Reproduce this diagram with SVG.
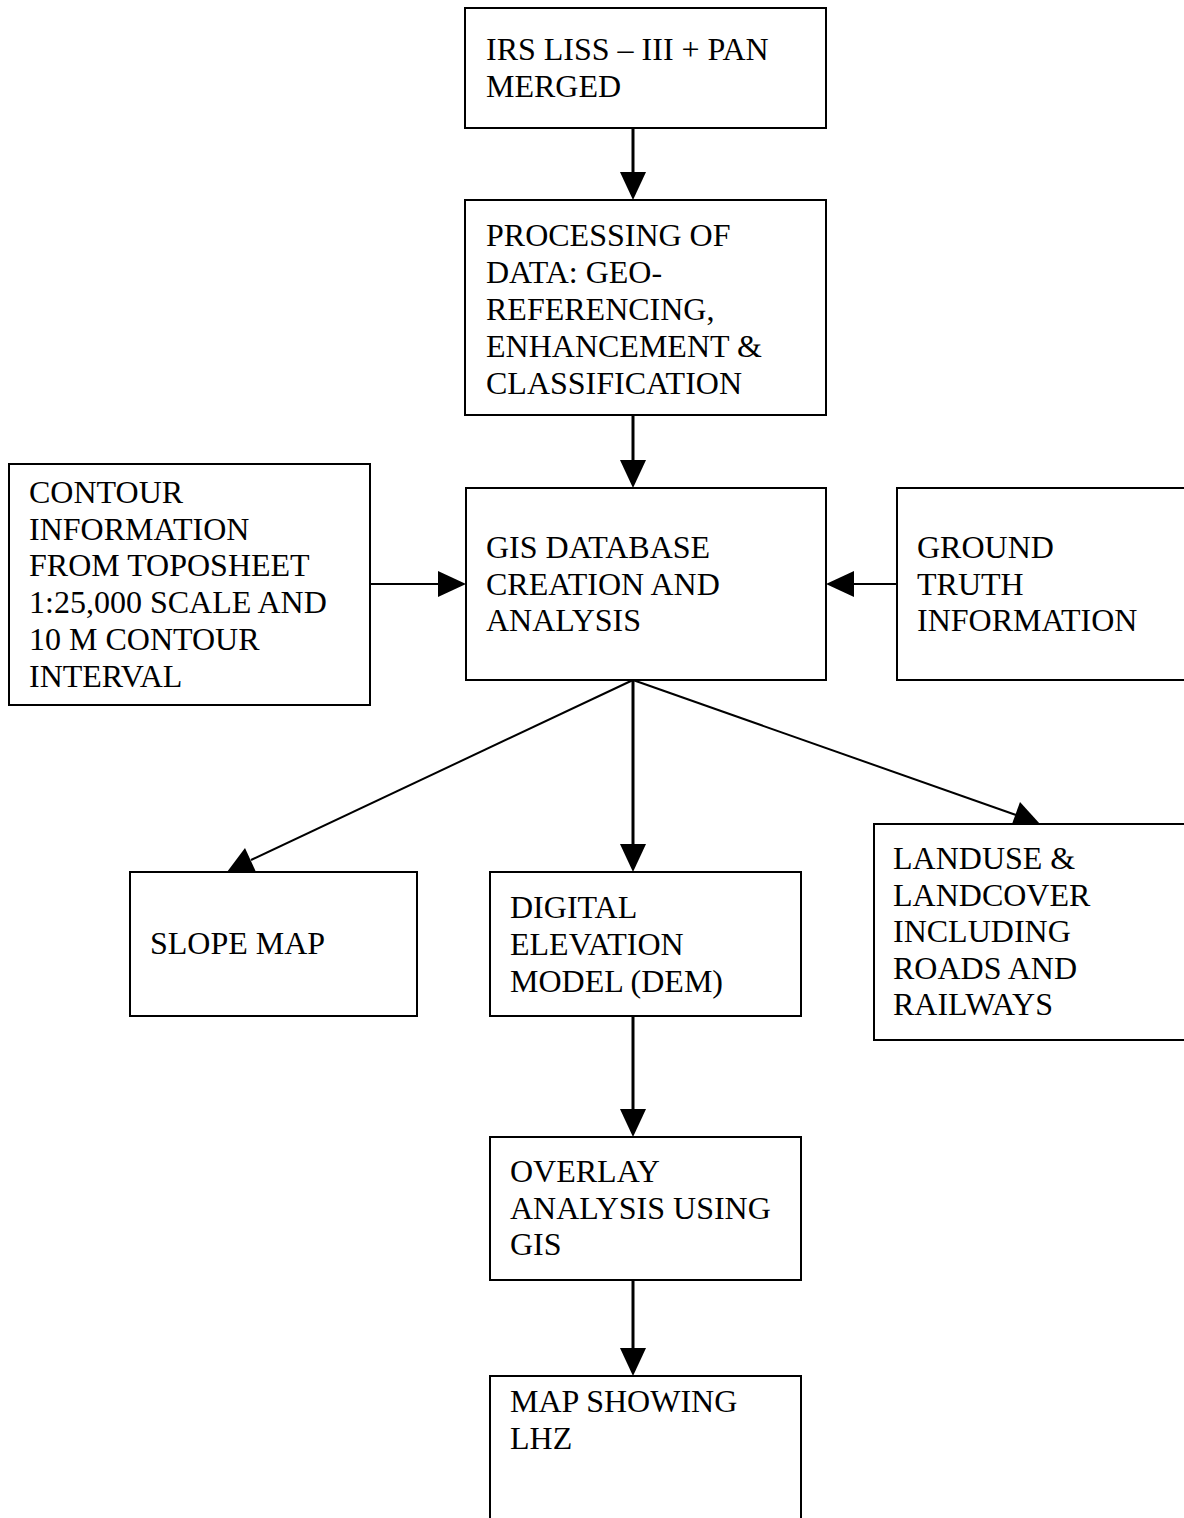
<svg xmlns="http://www.w3.org/2000/svg" width="1184" height="1518" viewBox="0 0 1184 1518">
<style>
.box{fill:#fff;stroke:#000;stroke-width:2}
.t{font-family:"Liberation Serif","Times New Roman",serif;font-size:32px;fill:#000}
.thick{stroke:#000;stroke-width:3;fill:none}
.thin{stroke:#000;stroke-width:2;fill:none}
.head{fill:#000;stroke:none}
</style>
<rect width="1184" height="1518" fill="#fff"/>
<g id="connectors">
<line class="thick" x1="633" y1="128" x2="633" y2="174"/>
<polygon class="head" points="620,172 646,172 633,200"/>
<line class="thick" x1="633" y1="415" x2="633" y2="462"/>
<polygon class="head" points="620,460 646,460 633,488"/>
<line class="thin" x1="370" y1="584" x2="440" y2="584"/>
<polygon class="head" points="438,571 438,597 466,584"/>
<line class="thin" x1="897" y1="584" x2="852" y2="584"/>
<polygon class="head" points="854,571 854,597 826,584"/>
<line class="thin" x1="633" y1="680" x2="251" y2="860"/>
<polygon class="head" points="227,872 245,848 256,872"/>
<line class="thin" x1="633" y1="680" x2="1016" y2="815"/>
<polygon class="head" points="1040,824 1020,802 1012,824"/>
<line class="thick" x1="633" y1="680" x2="633" y2="846"/>
<polygon class="head" points="620,844 646,844 633,872"/>
<line class="thick" x1="633" y1="1016" x2="633" y2="1111"/>
<polygon class="head" points="620,1109 646,1109 633,1137"/>
<line class="thick" x1="633" y1="1280" x2="633" y2="1350"/>
<polygon class="head" points="620,1348 646,1348 633,1376"/>
</g>
<g id="n1"><rect class="box" x="465" y="8" width="361" height="120"/>
<text class="t" x="486" y="60">IRS LISS – III + PAN</text><text class="t" x="486" y="97">MERGED</text></g>
<g id="n2"><rect class="box" x="465" y="200" width="361" height="215"/>
<text class="t" x="486" y="246">PROCESSING OF</text><text class="t" x="486" y="283">DATA: GEO-</text><text class="t" x="486" y="320">REFERENCING,</text><text class="t" x="486" y="357">ENHANCEMENT &amp;</text><text class="t" x="486" y="394">CLASSIFICATION</text></g>
<g id="n3"><rect class="box" x="466" y="488" width="360" height="192"/>
<text class="t" x="486" y="558">GIS DATABASE</text><text class="t" x="486" y="595">CREATION AND</text><text class="t" x="486" y="631">ANALYSIS</text></g>
<g id="n4"><rect class="box" x="9" y="464" width="361" height="241"/>
<text class="t" x="29" y="503">CONTOUR</text><text class="t" x="29" y="540">INFORMATION</text><text class="t" x="29" y="576">FROM TOPOSHEET</text><text class="t" x="29" y="613">1:25,000 SCALE AND</text><text class="t" x="29" y="650">10 M CONTOUR</text><text class="t" x="29" y="687">INTERVAL</text></g>
<g id="n5"><rect class="box" x="897" y="488" width="300" height="192"/>
<text class="t" x="917" y="558">GROUND</text><text class="t" x="917" y="595">TRUTH</text><text class="t" x="917" y="631">INFORMATION</text></g>
<g id="n6"><rect class="box" x="130" y="872" width="287" height="144"/>
<text class="t" x="150" y="954">SLOPE MAP</text></g>
<g id="n7"><rect class="box" x="490" y="872" width="311" height="144"/>
<text class="t" x="510" y="918">DIGITAL</text><text class="t" x="510" y="955">ELEVATION</text><text class="t" x="510" y="992">MODEL (DEM)</text></g>
<g id="n8"><rect class="box" x="874" y="824" width="320" height="216"/>
<text class="t" x="893" y="869">LANDUSE &amp;</text><text class="t" x="893" y="906">LANDCOVER</text><text class="t" x="893" y="942">INCLUDING</text><text class="t" x="893" y="979">ROADS AND</text><text class="t" x="893" y="1015">RAILWAYS</text></g>
<g id="n9"><rect class="box" x="490" y="1137" width="311" height="143"/>
<text class="t" x="510" y="1182">OVERLAY</text><text class="t" x="510" y="1219">ANALYSIS USING</text><text class="t" x="510" y="1255">GIS</text></g>
<g id="n10"><rect class="box" x="490" y="1376" width="311" height="160"/>
<text class="t" x="510" y="1412">MAP SHOWING</text><text class="t" x="510" y="1449">LHZ</text></g>
</svg>
